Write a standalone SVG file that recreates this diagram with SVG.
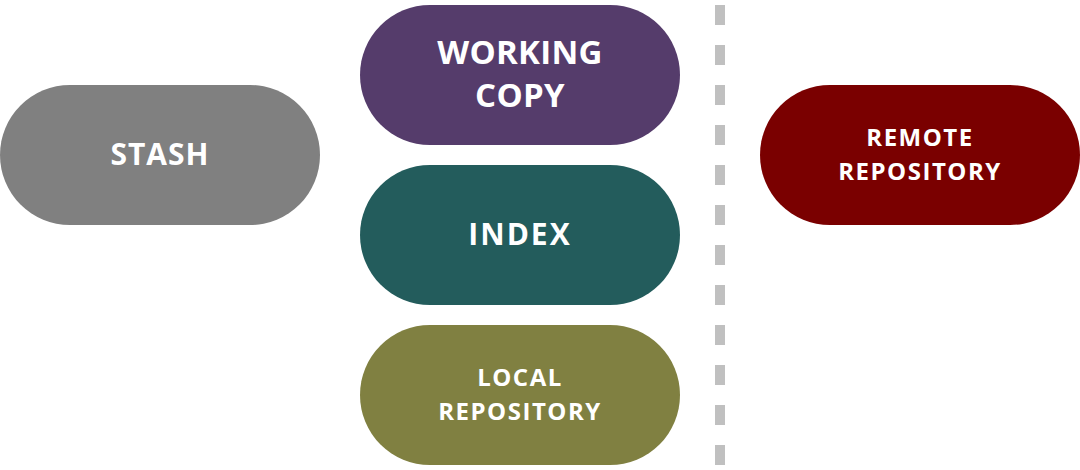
<svg xmlns="http://www.w3.org/2000/svg" width="1080" height="470" viewBox="0 0 1080 470">
<style>
.lbl{font-family:"Open Sans","Noto Sans","DejaVu Sans",sans-serif;font-weight:700;fill:#ffffff;text-anchor:middle}
.big{font-size:33px;letter-spacing:0.3px}
.mid{font-size:30px;letter-spacing:1px}
.idx{letter-spacing:2px}
.sm{font-size:24px;letter-spacing:1.5px}
</style>
<rect width="1080" height="470" fill="#ffffff"/>
<g id="connectors">
<line x1="720" y1="5" x2="720" y2="465" stroke="#c0c0c0" stroke-width="10" stroke-dasharray="20 20"/>
</g>
<g id="stash">
<rect x="0" y="85" width="320" height="140" rx="70" fill="#808080"/>
<text class="lbl mid" x="160" y="165">STASH</text>
</g>
<g id="working-copy">
<rect x="360" y="5" width="320" height="140" rx="70" fill="#553c6b"/>
<text class="lbl big" x="520" y="63.5">WORKING</text>
<text class="lbl big" x="520" y="106.5">COPY</text>
</g>
<g id="index">
<rect x="360" y="165" width="320" height="140" rx="70" fill="#235c5c"/>
<text class="lbl mid idx" x="520" y="244.5">INDEX</text>
</g>
<g id="local-repository">
<rect x="360" y="325" width="320" height="140" rx="70" fill="#808041"/>
<text class="lbl sm" x="520" y="386">LOCAL</text>
<text class="lbl sm" x="520" y="420">REPOSITORY</text>
</g>
<g id="remote-repository">
<rect x="760" y="85" width="320" height="140" rx="70" fill="#7a0000"/>
<text class="lbl sm" x="920" y="146">REMOTE</text>
<text class="lbl sm" x="920" y="180">REPOSITORY</text>
</g>
</svg>
